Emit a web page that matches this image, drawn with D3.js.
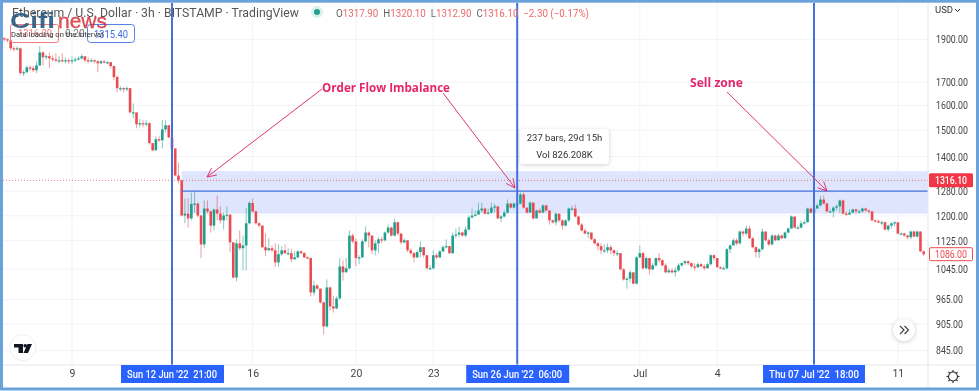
<!DOCTYPE html>
<html>
<head>
<meta charset="utf-8">
<script src="https://cdn.jsdelivr.net/npm/d3@7"></script>
<style>
  html, body { margin: 0; padding: 0; background: #fff; overflow: hidden; }
  svg { display: block; font-family: Roboto, "Liberation Sans", sans-serif; filter: blur(0.3px); }
</style>
</head>
<body>
<svg width="979" height="391"></svg>
<script>
// 3h candles, first bar is 6 Jun 22 09:00
const firstBar = Date.UTC(2022, 5, 6, 9);
const barHours = 3;

const opens = [
  1905, 1900, 1895, 1856, 1851, 1856, 1740, 1744, 1766, 1762,
  1753, 1775, 1836, 1813, 1818, 1808, 1803, 1799, 1799, 1794,
  1799, 1794, 1799, 1803, 1808, 1818, 1799, 1794, 1799, 1794,
  1785, 1794, 1790, 1790, 1772, 1722, 1673, 1673, 1668, 1673,
  1571, 1571, 1523, 1527, 1523, 1527, 1450, 1423, 1465, 1461,
  1503, 1519, 1472, 1430, 1333, 1316, 1201, 1207, 1192, 1238,
  1239, 1201, 1114, 1223, 1214, 1170, 1220, 1207, 1186, 1201,
  1204, 1120, 1022, 1117, 1103, 1111, 1177, 1241, 1214, 1177,
  1170, 1106, 1097, 1103, 1097, 1063, 1086, 1097, 1089, 1089,
  1072, 1077, 1094, 1089, 1077, 1075, 983, 1001, 993, 958,
  900, 996, 948, 943, 968, 1052, 1036, 1047, 1140, 1123,
  1075, 1077, 1123, 1149, 1140, 1097, 1117, 1129, 1126, 1149,
  1164, 1140, 1180, 1146, 1120, 1126, 1097, 1089, 1077, 1092,
  1106, 1083, 1047, 1047, 1083, 1077, 1094, 1106, 1109, 1089,
  1140, 1143, 1149, 1140, 1158, 1195, 1201, 1204, 1217, 1223,
  1207, 1210, 1226, 1230, 1192, 1198, 1210, 1239, 1226, 1239,
  1239, 1269, 1226, 1210, 1242, 1192, 1217, 1210, 1233, 1217,
  1186, 1180, 1207, 1186, 1170, 1186, 1223, 1223, 1198, 1173,
  1155, 1146, 1149, 1129, 1117, 1109, 1097, 1097, 1106, 1097,
  1089, 1089, 1044, 1017, 1019, 1036, 1006, 1077, 1089, 1047,
  1075, 1044, 1055, 1075, 1069, 1055, 1036, 1041, 1036, 1041,
  1055, 1061, 1066, 1061, 1052, 1050, 1058, 1052, 1047, 1058,
  1083, 1075, 1050, 1047, 1047, 1100, 1111, 1126, 1117, 1152,
  1146, 1161, 1132, 1106, 1092, 1100, 1152, 1126, 1114, 1140,
  1126, 1140, 1132, 1149, 1161, 1198, 1164, 1164, 1177, 1180,
  1223, 1210, 1223, 1233, 1252, 1239, 1214, 1214, 1226, 1230,
  1249, 1207, 1204, 1210, 1220, 1214, 1214, 1223, 1217, 1214,
  1186, 1183, 1180, 1180, 1158, 1170, 1177, 1180, 1146, 1146,
  1140, 1135, 1152, 1137, 1152, 1094
];
const closes = [
  1900, 1895, 1856, 1851, 1856, 1740, 1744, 1766, 1762, 1753,
  1775, 1836, 1813, 1818, 1808, 1803, 1799, 1799, 1794, 1799,
  1794, 1799, 1803, 1808, 1818, 1799, 1794, 1799, 1794, 1785,
  1794, 1790, 1790, 1772, 1722, 1673, 1673, 1668, 1673, 1571,
  1571, 1523, 1527, 1523, 1527, 1450, 1423, 1465, 1461, 1503,
  1519, 1472, 1430, 1333, 1316, 1201, 1207, 1192, 1238, 1239,
  1201, 1114, 1223, 1214, 1170, 1220, 1207, 1186, 1201, 1204,
  1120, 1022, 1117, 1103, 1111, 1177, 1241, 1214, 1177, 1170,
  1106, 1097, 1103, 1097, 1063, 1086, 1097, 1089, 1089, 1072,
  1077, 1094, 1089, 1077, 1075, 983, 1001, 993, 958, 900,
  996, 948, 943, 968, 1052, 1036, 1047, 1140, 1123, 1075,
  1077, 1123, 1149, 1140, 1097, 1117, 1129, 1126, 1149, 1164,
  1140, 1180, 1146, 1120, 1126, 1097, 1089, 1077, 1092, 1106,
  1083, 1047, 1047, 1083, 1077, 1094, 1106, 1109, 1089, 1140,
  1143, 1149, 1140, 1158, 1195, 1201, 1204, 1217, 1223, 1207,
  1210, 1226, 1230, 1192, 1198, 1210, 1239, 1226, 1239, 1239,
  1269, 1226, 1210, 1242, 1192, 1217, 1210, 1233, 1217, 1186,
  1180, 1207, 1186, 1170, 1186, 1223, 1223, 1198, 1173, 1155,
  1146, 1149, 1129, 1117, 1109, 1097, 1097, 1106, 1097, 1089,
  1089, 1044, 1017, 1019, 1036, 1006, 1077, 1089, 1047, 1075,
  1044, 1055, 1075, 1069, 1055, 1036, 1041, 1036, 1041, 1055,
  1061, 1066, 1061, 1052, 1050, 1058, 1052, 1047, 1058, 1083,
  1075, 1050, 1047, 1047, 1100, 1111, 1126, 1117, 1152, 1146,
  1161, 1132, 1106, 1092, 1100, 1152, 1126, 1114, 1140, 1126,
  1140, 1132, 1149, 1161, 1198, 1164, 1164, 1177, 1180, 1223,
  1210, 1223, 1233, 1252, 1239, 1214, 1214, 1226, 1230, 1249,
  1207, 1204, 1210, 1220, 1214, 1214, 1223, 1217, 1214, 1186,
  1183, 1180, 1180, 1158, 1170, 1177, 1180, 1146, 1146, 1140,
  1135, 1152, 1137, 1152, 1094, 1086
];
const highs = [
  1910, 1905, 1895, 1866, 1866, 1861, 1753, 1775, 1775, 1772,
  1794, 1866, 1842, 1827, 1836, 1822, 1832, 1818, 1832, 1813,
  1808, 1818, 1813, 1818, 1827, 1808, 1813, 1808, 1803, 1799,
  1799, 1799, 1794, 1790, 1775, 1730, 1681, 1677, 1681, 1673,
  1608, 1547, 1543, 1539, 1539, 1531, 1450, 1476, 1476, 1539,
  1539, 1519, 1472, 1430, 1379, 1316, 1255, 1255, 1275, 1279,
  1242, 1204, 1249, 1249, 1217, 1223, 1265, 1230, 1210, 1230,
  1204, 1120, 1129, 1155, 1140, 1226, 1246, 1255, 1217, 1180,
  1170, 1146, 1132, 1111, 1117, 1114, 1109, 1114, 1103, 1100,
  1094, 1097, 1097, 1092, 1080, 1077, 1014, 1004, 993, 960,
  1017, 998, 975, 973, 1075, 1069, 1075, 1155, 1146, 1132,
  1083, 1129, 1167, 1152, 1140, 1126, 1135, 1137, 1152, 1173,
  1167, 1192, 1183, 1146, 1132, 1126, 1103, 1092, 1097, 1123,
  1106, 1083, 1055, 1097, 1089, 1097, 1111, 1129, 1109, 1149,
  1161, 1167, 1152, 1167, 1201, 1223, 1217, 1242, 1242, 1226,
  1223, 1242, 1239, 1230, 1204, 1217, 1252, 1242, 1242, 1246,
  1275, 1275, 1226, 1246, 1242, 1220, 1223, 1236, 1236, 1217,
  1189, 1210, 1204, 1189, 1189, 1226, 1233, 1236, 1201, 1177,
  1161, 1152, 1149, 1132, 1120, 1117, 1114, 1117, 1111, 1100,
  1097, 1089, 1047, 1025, 1041, 1033, 1080, 1111, 1092, 1080,
  1075, 1061, 1077, 1089, 1072, 1061, 1047, 1047, 1050, 1061,
  1063, 1069, 1069, 1063, 1061, 1063, 1061, 1058, 1063, 1086,
  1086, 1075, 1052, 1052, 1103, 1114, 1132, 1132, 1155, 1155,
  1170, 1170, 1135, 1109, 1103, 1161, 1152, 1132, 1143, 1143,
  1146, 1143, 1152, 1164, 1201, 1186, 1170, 1186, 1186, 1226,
  1226, 1230, 1239, 1265, 1265, 1242, 1220, 1230, 1236, 1252,
  1252, 1214, 1220, 1223, 1223, 1220, 1226, 1226, 1220, 1214,
  1189, 1189, 1186, 1183, 1173, 1180, 1183, 1173, 1149, 1149,
  1143, 1155, 1155, 1155, 1152, 1097
];
const lows = [
  1890, 1885, 1846, 1842, 1846, 1730, 1726, 1740, 1749, 1744,
  1740, 1775, 1775, 1803, 1762, 1794, 1790, 1785, 1790, 1785,
  1781, 1781, 1790, 1799, 1803, 1790, 1785, 1790, 1785, 1744,
  1781, 1785, 1781, 1762, 1708, 1655, 1660, 1655, 1660, 1567,
  1547, 1507, 1511, 1511, 1515, 1445, 1420, 1427, 1454, 1430,
  1491, 1469, 1427, 1330, 1306, 1198, 1177, 1164, 1186, 1210,
  1195, 1075, 1103, 1207, 1149, 1155, 1186, 1177, 1158, 1186,
  1092, 1019, 1012, 1097, 1041, 1041, 1173, 1210, 1173, 1164,
  1103, 1080, 1097, 1092, 1050, 1050, 1080, 1086, 1083, 1063,
  1069, 1075, 1086, 1075, 1072, 973, 975, 990, 955, 881,
  897, 938, 933, 941, 965, 1014, 1036, 1044, 1117, 1052,
  1058, 1075, 1120, 1106, 1086, 1083, 1089, 1117, 1123, 1146,
  1137, 1137, 1140, 1114, 1117, 1092, 1083, 1063, 1075, 1077,
  1077, 1044, 1044, 1044, 1072, 1075, 1092, 1103, 1086, 1086,
  1132, 1137, 1137, 1135, 1155, 1192, 1198, 1204, 1210, 1204,
  1204, 1207, 1210, 1189, 1180, 1195, 1207, 1223, 1223, 1233,
  1236, 1223, 1207, 1210, 1189, 1192, 1207, 1210, 1214, 1173,
  1177, 1170, 1180, 1158, 1167, 1180, 1217, 1195, 1170, 1152,
  1143, 1132, 1126, 1114, 1097, 1086, 1089, 1089, 1086, 1080,
  1080, 1041, 1014, 993, 1009, 1004, 1004, 1075, 1044, 1044,
  1030, 1041, 1050, 1063, 1052, 1033, 1033, 1033, 1025, 1038,
  1050, 1055, 1055, 1047, 1041, 1047, 1050, 1041, 1047, 1055,
  1069, 1047, 1044, 1044, 1044, 1089, 1114, 1111, 1114, 1137,
  1140, 1129, 1103, 1077, 1075, 1097, 1123, 1109, 1111, 1123,
  1126, 1129, 1132, 1146, 1161, 1161, 1161, 1161, 1173, 1180,
  1207, 1210, 1230, 1230, 1236, 1210, 1210, 1195, 1217, 1210,
  1204, 1201, 1204, 1207, 1207, 1207, 1210, 1214, 1207, 1183,
  1180, 1177, 1170, 1155, 1152, 1161, 1167, 1143, 1143, 1137,
  1129, 1129, 1135, 1135, 1092, 1080
];

const priceTicks = [845, 905, 965, 1045, 1125, 1200, 1280, 1400, 1500, 1600, 1700, 1900];
const dayTicks = [
  { t: Date.UTC(2022, 5, 9), label: "9" }, { t: Date.UTC(2022, 5, 16), label: "16" },
  { t: Date.UTC(2022, 5, 20), label: "20" }, { t: Date.UTC(2022, 5, 23), label: "23" },
  { t: Date.UTC(2022, 6, 1), label: "Jul" }, { t: Date.UTC(2022, 6, 4), label: "4" },
  { t: Date.UTC(2022, 6, 11), label: "11" }
];
const markers = [
  { t: Date.UTC(2022, 5, 12, 21), label: "Sun 12 Jun '22  21:00", w: 103 },
  { t: Date.UTC(2022, 5, 26, 6), label: "Sun 26 Jun '22  06:00", w: 103 },
  { t: Date.UTC(2022, 6, 7, 18), label: "Thu 07 Jul '22  18:00", w: 102 }
];
const zoneTop = 1348, zoneBottom = 1207, zoneLine = 1280;
const lastPrice = 1316.10, currentPrice = 1086.00;

const width = 979, height = 391, paneRight = 928, paneBottom = 365;
const blue = "#4470dc", red = "#ea4b52", green = "#1f9f8c", pink = "#e0356f";

const svg = d3.select("svg");

const x = d3.scaleUtc()
  .domain([markers[0].t, markers[2].t])
  .range([172, 814]);
const y = d3.scaleLog()
  .domain([845, 1900])
  .range([350.6, 39.3]);

const barTime = i => firstBar + i * barHours * 3600e3;

// the original is squeezed sideways, so some labels get a fixed run length
const squeeze = (sel, len) => sel.attr("textLength", len).attr("lengthAdjust", "spacingAndGlyphs");

svg.append("rect").attr("width", width).attr("height", height).attr("fill", "#fff");

// grid
svg.append("g").selectAll("line").data(priceTicks).join("line")
  .attr("x1", 3).attr("x2", paneRight)
  .attr("y1", d => y(d)).attr("y2", d => y(d))
  .attr("stroke", "#f1f3f7");
svg.append("g").selectAll("line").data(dayTicks).join("line")
  .attr("x1", d => x(d.t)).attr("x2", d => x(d.t))
  .attr("y1", 3).attr("y2", paneBottom)
  .attr("stroke", "#f1f3f7");

// sell zone
svg.append("rect")
  .attr("x", x(barTime(55))).attr("width", paneRight - x(barTime(55)))
  .attr("y", y(zoneTop)).attr("height", y(zoneBottom) - y(zoneTop))
  .attr("fill", "#dfe5fc");

// last price dotted line
svg.append("line")
  .attr("x1", 3).attr("x2", paneRight)
  .attr("y1", y(lastPrice)).attr("y2", y(lastPrice))
  .attr("stroke", "#ea4b52").attr("stroke-opacity", 0.75).attr("stroke-dasharray", "1 2");

// candles
const candles = d3.range(closes.length);
const color = i => closes[i] >= opens[i] ? green : red;
const candle = svg.append("g").selectAll("g").data(candles).join("g");
candle.append("line")
  .attr("x1", i => x(barTime(i))).attr("x2", i => x(barTime(i)))
  .attr("y1", i => y(highs[i])).attr("y2", i => y(lows[i]))
  .attr("stroke", color).attr("stroke-opacity", 0.55);
candle.append("rect")
  .attr("x", i => x(barTime(i)) - 1.3).attr("width", 2.6)
  .attr("y", i => y(Math.max(opens[i], closes[i])))
  .attr("height", i => Math.max(1.2, Math.abs(y(opens[i]) - y(closes[i]))))
  .attr("fill", color);

// zone line and vertical markers
svg.append("line")
  .attr("x1", x(barTime(55))).attr("x2", paneRight)
  .attr("y1", y(zoneLine)).attr("y2", y(zoneLine))
  .attr("stroke", blue).attr("stroke-width", 1.2);
svg.append("g").selectAll("line").data(markers).join("line")
  .attr("x1", d => x(d.t)).attr("x2", d => x(d.t))
  .attr("y1", 3).attr("y2", paneBottom)
  .attr("stroke", blue).attr("stroke-width", 2);

// annotations
const arrow = (x1, y1, x2, y2) => {
  const a = Math.atan2(y2 - y1, x2 - x1), s = 10;
  const p = t => `${x2 - s * Math.cos(a + t)},${y2 - s * Math.sin(a + t)}`;
  svg.append("path")
    .attr("d", `M${x1},${y1}L${x2},${y2}M${p(0.45)}L${x2},${y2}L${p(-0.45)}`)
    .attr("fill", "none").attr("stroke", pink).attr("stroke-width", 1);
};
arrow(322, 89, 207, 177);
arrow(443, 93, 515, 188);
arrow(727, 92, 827, 191);

const note = (px, py, s, len) => squeeze(svg.append("text")
  .attr("x", px).attr("y", py)
  .attr("font-family", "'Open Sans', sans-serif")
  .attr("font-size", 11.5).attr("font-weight", 700)
  .attr("fill", "#e6246a").text(s), len);
note(322, 92, "Order Flow Imbalance", 128);
note(690, 87, "Sell zone", 53);

// tooltip
svg.append("rect")
  .attr("x", 520).attr("y", 129).attr("width", 89).attr("height", 35).attr("rx", 3)
  .attr("fill", "#fff").style("filter", "drop-shadow(0 1px 2px rgba(0,0,0,.18))");
svg.append("text").attr("x", 564.5).attr("y", 141).attr("text-anchor", "middle")
  .attr("font-size", 9.5).attr("fill", "#333").text("237 bars, 29d 15h");
svg.append("text").attr("x", 564.5).attr("y", 158).attr("text-anchor", "middle")
  .attr("font-size", 9.5).attr("fill", "#333").text("Vol 826.208K");

// price axis
svg.append("rect").attr("x", paneRight).attr("y", 3).attr("width", width - paneRight - 3).attr("height", height - 6).attr("fill", "#fff");
svg.append("rect").attr("x", 3).attr("y", paneBottom).attr("width", width - 6).attr("height", height - paneBottom - 3).attr("fill", "#fff");

const priceAxis = d3.axisRight(y)
  .tickValues(priceTicks)
  .tickSize(0).tickPadding(8)
  .tickFormat(d3.format(".2f"));
const py = svg.append("g").attr("transform", `translate(${paneRight},0)`).call(priceAxis);
py.select(".domain").remove();
py.selectAll("text").attr("font-size", 10.5).attr("font-family", "Roboto, sans-serif").attr("fill", "#444")
  .attr("textLength", d => d < 1000 ? 27 : 32).attr("lengthAdjust", "spacingAndGlyphs");

const timeAxis = d3.axisBottom(x)
  .tickValues(dayTicks.map(d => new Date(d.t)))
  .tickSize(0).tickPadding(5)
  .tickFormat((d, i) => dayTicks[i].label);
const tx = svg.append("g").attr("transform", `translate(0,${paneBottom})`).call(timeAxis);
tx.select(".domain").remove();
tx.selectAll("text").attr("font-size", 10.5).attr("font-family", "Roboto, sans-serif").attr("fill", "#444");

svg.append("line").attr("x1", paneRight).attr("x2", paneRight).attr("y1", 3).attr("y2", height - 4).attr("stroke", "#e4e6ea");
svg.append("line").attr("x1", 3).attr("x2", width - 3).attr("y1", paneBottom).attr("y2", paneBottom).attr("stroke", "#e4e6ea");

svg.append("text").attr("x", 935).attr("y", 13).attr("font-size", 9.5).attr("fill", "#333").text("USD");
svg.append("path").attr("d", "M955,9l2.5,2.5l2.5,-2.5").attr("fill", "none").attr("stroke", "#333");

// date flags
const flag = svg.append("g").selectAll("g").data(markers).join("g")
  .attr("transform", d => `translate(${x(d.t)},${paneBottom})`);
flag.append("rect")
  .attr("x", -51).attr("y", 0).attr("width", d => d.w).attr("height", 18)
  .attr("fill", "#2962ff");
squeeze(flag.append("text")
  .attr("y", 13).attr("text-anchor", "middle")
  .attr("font-size", 10).attr("font-weight", 500).attr("fill", "#fff")
  .style("white-space", "pre").text(d => d.label), 90);

// price flags
svg.append("rect").attr("x", 929).attr("y", y(lastPrice) - 7).attr("width", 44).attr("height", 14).attr("rx", 1.5).attr("fill", "#f23645");
squeeze(svg.append("text").attr("x", 951).attr("y", y(lastPrice) + 4).attr("text-anchor", "middle")
  .attr("font-size", 10.5).attr("font-weight", 500).attr("fill", "#fff").text(lastPrice.toFixed(2)), 32);
svg.append("rect").attr("x", 929.5).attr("y", y(currentPrice) - 6.5).attr("width", 43).attr("height", 13).attr("rx", 1.5)
  .attr("fill", "#fff").attr("stroke", "#ea4b52");
squeeze(svg.append("text").attr("x", 951).attr("y", y(currentPrice) + 4).attr("text-anchor", "middle")
  .attr("font-size", 10.5).attr("fill", "#ea4b52").text(currentPrice.toFixed(2)), 32);

// header legend
const head = svg.append("g").attr("font-size", 12.5);
squeeze(head.append("text").attr("x", 12).attr("y", 17).attr("fill", "#555")
  .text("Ethereum / U.S. Dollar · 3h · BITSTAMP · TradingView"), 287);
head.append("circle").attr("cx", 317).attr("cy", 12).attr("r", 6).attr("fill", "#d8f1ec");
head.append("circle").attr("cx", 317).attr("cy", 12).attr("r", 3).attr("fill", "#1f9f8c");
const ohlc = head.append("text").attr("x", 336).attr("y", 16.5).attr("font-size", 10.2);
[["O", 0], ["1317.90", 1], ["  H", 0], ["1320.10", 1], ["  L", 0], ["1312.90", 1], ["  C", 0], ["1316.10", 1], ["  −2.30 (−0.17%)", 1]]
  .forEach(([s, k]) => ohlc.append("tspan").attr("fill", k ? "#ee6a6a" : "#666").style("white-space", "pre").text(s));
squeeze(ohlc, 253);

// bid / ask boxes
svg.append("rect").attr("x", 10.5).attr("y", 24.5).attr("width", 48).attr("height", 18).attr("rx", 2)
  .attr("fill", "none").attr("stroke", "#ee7b80");
squeeze(svg.append("text").attr("x", 18).attr("y", 37).attr("font-size", 10.5).attr("fill", "#e9797e").text("1316.20"), 34);
svg.append("text").attr("x", 65).attr("y", 37).attr("font-size", 10).attr("fill", "#777").text("0.20");
svg.append("rect").attr("x", 87.5).attr("y", 24.5).attr("width", 47).attr("height", 18).attr("rx", 3)
  .attr("fill", "#fff").attr("stroke", "#5a80e6");
squeeze(svg.append("text").attr("x", 94).attr("y", 38).attr("font-size", 11).attr("fill", "#3f6fe0").text("1315.40"), 34);
squeeze(svg.append("text").attr("x", 11).attr("y", 37).attr("font-size", 7.6).attr("fill", "#333")
  .text("Data loading on the interval"), 92);

// site logo over the legend
const logo = svg.append("g").attr("font-family", "'Liberation Sans', sans-serif").attr("font-weight", 700);
squeeze(logo.append("text").attr("x", 10).attr("y", 28).attr("font-size", 22).attr("fill", "#2b5a80").attr("fill-opacity", 0.92).text("Cifi"), 45);
squeeze(logo.append("text").attr("x", 58).attr("y", 28).attr("font-size", 21).attr("font-weight", 400)
  .attr("fill", "#d5303a").attr("fill-opacity", 0.85).attr("stroke", "#d5303a").attr("stroke-width", 0.3).text("news"), 49);

// tradingview badge
svg.append("circle").attr("cx", 22.7).attr("cy", 347.7).attr("r", 13).attr("fill", "#fff").attr("stroke", "#eceef2");
svg.append("path").attr("d", "M14,344h9v9h-4.5v-5.5h-4.5zM27.5,344h4.5l-4,9h-4.5z").attr("fill", "#131722");
svg.append("circle").attr("cx", 25.2).attr("cy", 345.8).attr("r", 1.8).attr("fill", "#131722");

// scroll button
svg.append("circle").attr("cx", 904).attr("cy", 330).attr("r", 11).attr("fill", "#fff")
  .style("filter", "drop-shadow(0 1px 2px rgba(0,0,0,.2))");
svg.append("path").attr("d", "M900,326l4,4l-4,4M904.5,326l4,4l-4,4").attr("fill", "none").attr("stroke", "#444").attr("stroke-width", 1.2);

// settings gear
const gear = svg.append("g").attr("transform", "translate(953,376.5)");
gear.append("circle").attr("r", 4.5).attr("fill", "none").attr("stroke", "#333").attr("stroke-width", 1.1);
gear.selectAll("line").data(d3.range(8)).join("line")
  .attr("x1", 4.5).attr("x2", 6.5)
  .attr("transform", d => `rotate(${d * 45})`)
  .attr("stroke", "#333").attr("stroke-width", 1.2);

// frame
svg.append("rect").attr("x", 1.5).attr("y", 1.2).attr("width", width - 3).attr("height", height - 3.2)
  .attr("fill", "none").attr("stroke", "#6aa3dc").attr("stroke-width", 3);
</script>
</body>
</html>
